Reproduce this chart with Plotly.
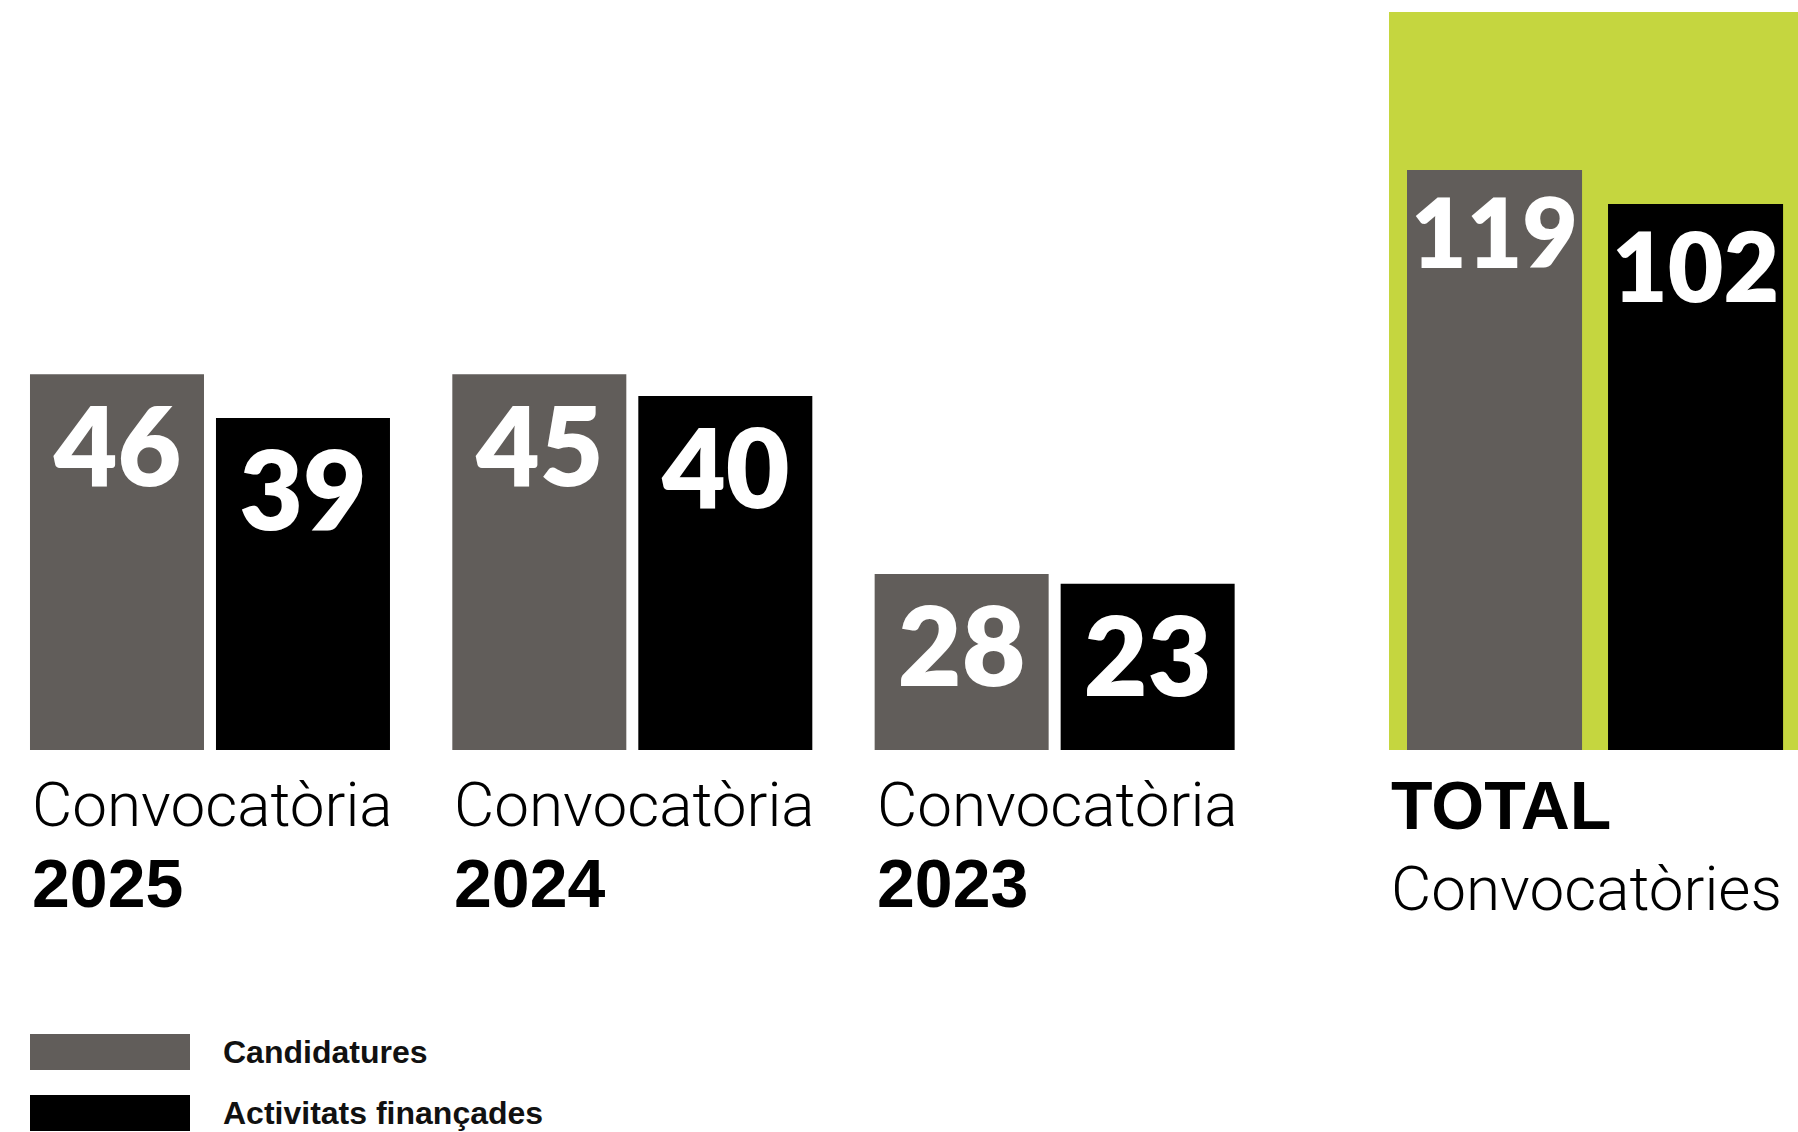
import plotly.graph_objects as go

# ---------------- data ----------------
years = ["2025", "2024", "2023"]
year_title = "Convocatòria"
candidatures = [46, 45, 28]
activitats = [39, 40, 23]

total_category = ["TOTAL"]
total_title = "TOTAL"
total_subtitle = "Convocatòries"
total_candidatures = [119]
total_activitats = [102]

# The infographic does not draw its bars to scale with the printed numbers.
# Bar lengths as drawn in units where the
# TOTAL candidatures bar = 119.
drawn_candidatures = [77.1, 77.1, 36.1]
drawn_activitats = [68.1, 72.6, 34.1]
drawn_total_candidatures = [119.0]
drawn_total_activitats = [112.0]

legend_labels = ["Candidatures", "Activitats finançades"]

# ---------------- style ----------------
W, H = 1798, 1132
GRAY = "#615d5a"
BLACK = "#000000"
GREEN = "#c5d63f"
NUM_FONT = dict(family="Lato, Inter, sans-serif", size=110, color="white", weight=800)
TOT_NUM_FONT = dict(family="Lato, Inter, sans-serif", size=96, color="white", weight=800)
LIGHT_FONT = dict(family="Roboto, Liberation Sans, sans-serif", size=62, color="black", weight=300)
BOLD_FONT = dict(family="Liberation Sans, Arial, sans-serif", size=68, color="black", weight=700)
LEG_FONT = dict(family="Liberation Sans, Arial, sans-serif", size=32, color="#111111", weight=700)

# year panel geometry (category units)
Y_BAR_W = 0.412
Y_OFF_C = -0.429
Y_OFF_A = 0.0114
# total panel geometry
T_BAR_W = 0.428
T_OFF_C = -0.456
T_OFF_A = 0.0355

Y_DOMAIN = [1 - 750 / H, 1 - 12 / H]
Y_RANGE = [0, 151.4]

fig = go.Figure()

bar_common = dict(
    textposition="inside",
    insidetextanchor="end",
    textangle=0,
    constraintext="none",
    hoverinfo="skip",
    marker_line_width=0,
    showlegend=False,
)

fig.add_trace(go.Bar(x=years, y=drawn_candidatures, text=[str(v) for v in candidatures],
                     marker_color=GRAY, width=Y_BAR_W, offset=Y_OFF_C, textfont=NUM_FONT,
                     xaxis="x", yaxis="y", name=legend_labels[0], **bar_common))
fig.add_trace(go.Bar(x=years, y=drawn_activitats, text=[str(v) for v in activitats],
                     marker_color=BLACK, width=Y_BAR_W, offset=Y_OFF_A, textfont=NUM_FONT,
                     xaxis="x", yaxis="y", name=legend_labels[1], **bar_common))
fig.add_trace(go.Bar(x=total_category, y=drawn_total_candidatures,
                     text=[str(v) for v in total_candidatures],
                     marker_color=GRAY, width=T_BAR_W, offset=T_OFF_C, textfont=TOT_NUM_FONT,
                     xaxis="x2", yaxis="y2", name=legend_labels[0], **bar_common))
fig.add_trace(go.Bar(x=total_category, y=drawn_total_activitats,
                     text=[str(v) for v in total_activitats],
                     marker_color=BLACK, width=T_BAR_W, offset=T_OFF_A, textfont=TOT_NUM_FONT,
                     xaxis="x2", yaxis="y2", name=legend_labels[1], **bar_common))

axis_off = dict(showgrid=False, zeroline=False, showticklabels=False, ticks="", showline=False)

fig.update_layout(
    width=W, height=H,
    margin=dict(l=0, r=0, t=0, b=0),
    paper_bgcolor="white",
    plot_bgcolor="rgba(0,0,0,0)",
    barmode="group",
    showlegend=False,
    xaxis=dict(domain=[0, 1267 / W], range=[-0.5, 2.5], type="category", **axis_off),
    yaxis=dict(domain=Y_DOMAIN, range=Y_RANGE, **axis_off),
    xaxis2=dict(domain=[1389 / W, 1], range=[-0.5, 0.5], type="category", anchor="y2", **axis_off),
    yaxis2=dict(domain=Y_DOMAIN, range=Y_RANGE, anchor="x2", **axis_off),
)

# green background panel behind the total bars
fig.add_shape(type="rect", xref="x2 domain", yref="y2 domain", x0=0, x1=1, y0=0, y1=1,
              fillcolor=GREEN, line_width=0, layer="below")

# category labels
for i, yr in enumerate(years):
    fig.add_annotation(x=i + Y_OFF_C, xref="x", y=1 - 804 / H, yref="paper",
                       text=year_title, showarrow=False, xanchor="left", yanchor="middle",
                       font=LIGHT_FONT)
    fig.add_annotation(x=i + Y_OFF_C, xref="x", y=1 - 883 / H, yref="paper",
                       text=yr, showarrow=False, xanchor="left", yanchor="middle",
                       font=BOLD_FONT)

fig.add_annotation(x=0, xref="x2 domain", y=1 - 805 / H, yref="paper",
                   text=total_title, showarrow=False, xanchor="left", yanchor="middle",
                   font=BOLD_FONT)
fig.add_annotation(x=0, xref="x2 domain", y=1 - 888 / H, yref="paper",
                   text=total_subtitle, showarrow=False, xanchor="left", yanchor="middle",
                   font=LIGHT_FONT)

# legend (drawn manually: wide swatches)
legend_colors = [GRAY, BLACK]
legend_rows = [(1034, 1070), (1095, 1131)]
for lab, col, (top, bot) in zip(legend_labels, legend_colors, legend_rows):
    fig.add_shape(type="rect", xref="paper", yref="paper",
                  x0=30 / W, x1=190 / W, y0=1 - bot / H, y1=1 - top / H,
                  fillcolor=col, line_width=0)
    fig.add_annotation(x=221 / W, xref="paper", y=1 - (top + bot) / 2 / H, yref="paper",
                       text=lab, showarrow=False, xanchor="left", yanchor="middle",
                       font=LEG_FONT)

fig.write_html("out.html", config={"displayModeBar": False},
               post_script="document.body.style.margin='0px';"
                           "document.body.style.overflow='hidden';")
